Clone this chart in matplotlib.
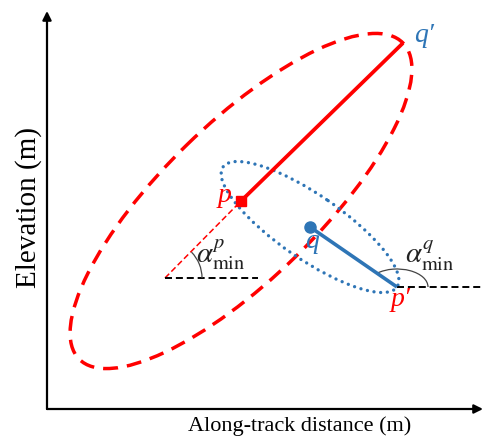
import numpy as np
import matplotlib
matplotlib.use("Agg")
import matplotlib.pyplot as plt
from matplotlib.patches import Ellipse, Arc

plt.rcParams['mathtext.fontset'] = 'stix'
SERIF = ['Liberation Serif', 'DejaVu Serif']

# ---- schematic points (pixel-like units, y grows downward) ----
origin = (47, 409)
y_axis_top = (47, 11)
x_axis_end = (483, 409)

p_point = (241, 201)
q_prime_point = (403, 43)
q_point = (310, 227)
p_prime_point = (397, 287)
vertex_p = (165, 278)

red_minor_semi = 78
blue_minor_semi = 32
hline_p_end = 258
hline_q_end = 484

RED = '#ff0000'
BLUE = '#2e75b6'

fig = plt.figure(figsize=(4.84, 4.37), dpi=100)
ax = fig.add_axes([0, 0, 1, 1])
ax.set_xlim(0, 484)
ax.set_ylim(437, 0)
ax.set_aspect('equal')
ax.axis('off')

# axes arrows
ax.annotate('', xy=y_axis_top, xytext=origin,
            arrowprops=dict(arrowstyle='-|>', lw=1.6, color='black', mutation_scale=13, shrinkA=0, shrinkB=0))
ax.annotate('', xy=x_axis_end, xytext=origin,
            arrowprops=dict(arrowstyle='-|>', lw=1.6, color='black', mutation_scale=13, shrinkA=0, shrinkB=0))

# red error ellipse centred at p with major axis reaching q'
dx, dy = q_prime_point[0] - p_point[0], q_prime_point[1] - p_point[1]
red_angle = np.degrees(np.arctan2(dy, dx))
red_major = np.hypot(dx, dy)
ax.add_patch(Ellipse(p_point, 2 * red_major, 2 * red_minor_semi, angle=red_angle,
                     fill=False, edgecolor=RED, lw=2.5, linestyle=(0, (4.3, 2.6)), zorder=2))

# blue error ellipse centred at q with major axis reaching p'
bdx, bdy = p_prime_point[0] - q_point[0], p_prime_point[1] - q_point[1]
blue_angle = np.degrees(np.arctan2(bdy, bdx))
blue_major = np.hypot(bdx, bdy)
ax.add_patch(Ellipse(q_point, 2 * blue_major, 2 * blue_minor_semi, angle=blue_angle,
                     fill=False, edgecolor=BLUE, lw=2.4, linestyle=(0, (0.01, 2.0)),
                     capstyle='round', zorder=2))

# thin red dashed extension from p to vertex
ax.plot([vertex_p[0], p_point[0]], [vertex_p[1], p_point[1]], color=RED, lw=1.1,
        linestyle=(0, (3.9, 2.0)), zorder=3)
# black dashed horizontals
ax.plot([vertex_p[0], hline_p_end], [vertex_p[1], vertex_p[1]], color='black', lw=1.4,
        linestyle=(0, (3.6, 2.0)), zorder=3)
ax.plot([p_prime_point[0], hline_q_end], [p_prime_point[1], p_prime_point[1]], color='black', lw=1.4,
        linestyle=(0, (3.6, 2.0)), zorder=3)

# angle arcs
ax.add_patch(Arc(vertex_p, 74, 74, angle=0, theta1=red_angle, theta2=0, color='#444444', lw=0.9, zorder=3))
blue_back = np.degrees(np.arctan2(q_point[1] - p_prime_point[1], q_point[0] - p_prime_point[0]))
ax.add_patch(Arc(p_prime_point, 62, 36, angle=0, theta1=blue_back, theta2=0, color='#444444', lw=0.9, zorder=3))

# solid segments
ax.plot([p_point[0], q_prime_point[0]], [p_point[1], q_prime_point[1]], color=RED, lw=2.7,
        solid_capstyle='butt', zorder=4)
ax.plot([q_point[0], p_prime_point[0]], [q_point[1], p_prime_point[1]], color=BLUE, lw=2.6,
        solid_capstyle='butt', zorder=4)

# points
ax.plot(*p_point, marker='s', color=RED, markersize=7, zorder=5)
ax.plot(*q_point, marker='o', color=BLUE, markersize=8, zorder=5)

# point labels
ax.text(225, 196, 'p', color=RED, fontsize=20, style='italic', family=SERIF, ha='center', va='center', zorder=6)
ax.text(424, 36, 'q\u2032', color=BLUE, fontsize=20, style='italic', family=SERIF, ha='center', va='center', zorder=6)
ax.text(312, 242, 'q', color=BLUE, fontsize=20, style='italic', family=SERIF, ha='center', va='center', zorder=6)
ax.text(401, 299, 'p\u2032', color=RED, fontsize=20, style='italic', family=SERIF, ha='center', va='center', zorder=6)

# angle labels
ax.text(221, 255, r'$\alpha^{p}_{\min}$', color='#222222', fontsize=21, ha='center', va='center', zorder=6)
ax.text(430, 256, r'$\alpha^{q}_{\min}$', color='#222222', fontsize=21, ha='center', va='center', zorder=6)

# axis titles
ax.text(29, 207, 'Elevation (m)', rotation=90, fontsize=21, family=SERIF, ha='center', va='center')
ax.text(300, 426, 'Along-track distance (m)', fontsize=16, family=SERIF, ha='center', va='center')

fig.savefig('out.png', dpi=100)
